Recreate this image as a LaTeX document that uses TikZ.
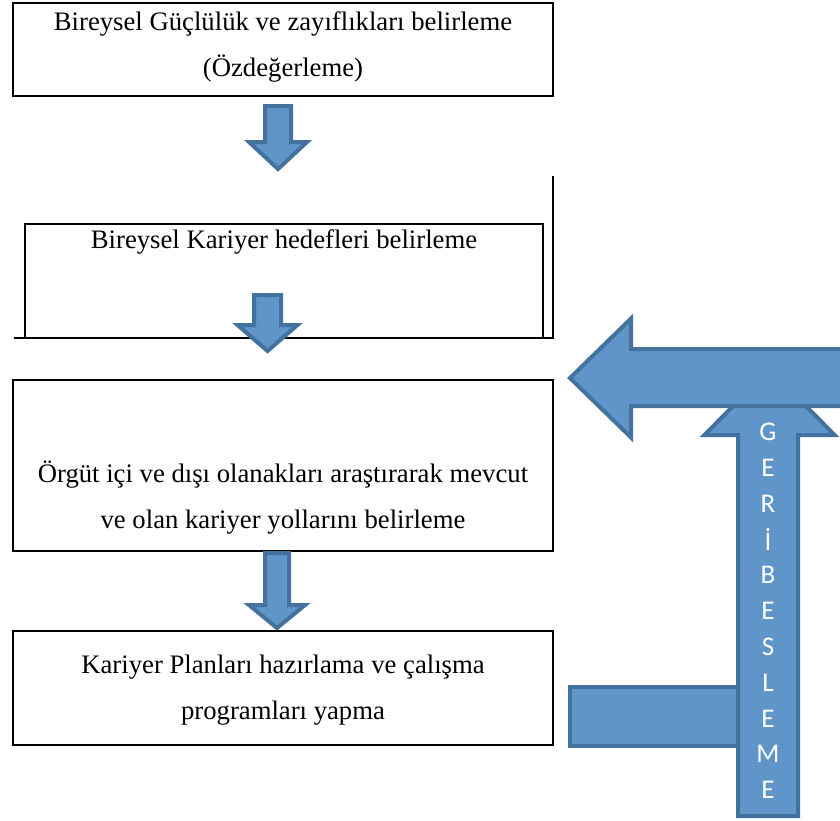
\documentclass[tikz,border=0pt]{standalone}
\usepackage{fontspec}
\setmainfont{Liberation Serif}
\newfontfamily\calibfont{Carlito}
\usepackage{xcolor}
\usepackage{tikz}
\usetikzlibrary{positioning}

\definecolor{arrfill}{RGB}{96,149,201}
\definecolor{arrline}{RGB}{68,114,158}

% block arrow pointing down: centre x, top, head base, tip, half shaft, half head
\newcommand{\blockdown}[6]{%
  \draw[blockarrow] (#1-#5,#2) -- (#1+#5,#2) -- (#1+#5,#3) -- (#1+#6,#3)
    -- (#1,#4) -- (#1-#6,#3) -- (#1-#5,#3) -- cycle;}

\begin{document}
\begin{tikzpicture}[
    x=1pt, y=-1pt,
    box/.style={rectangle, draw, line width=2.8pt, minimum width=540pt, inner sep=0pt},
    frameline/.style={line width=2.8pt},
    boxtext/.style={align=center, font=\fontsize{26.7}{46}\selectfont},
    blockarrow/.style={fill=arrfill, draw=arrline, line width=4pt, line join=miter},
    fbtext/.style={text=white, font=\calibfont\fontsize{27}{27}\selectfont, inner sep=0pt},
]
\useasboundingbox (0,0) rectangle (840,820);
\clip (0,0) rectangle (840,820);

% Boxes
\node[box, minimum height=93pt] (selfeval) at (283,49.5) {};
\node[box, minimum width=518pt, minimum height=114pt] (goals) at (284,281) {};
\node[box, minimum height=171pt] (paths) at (283,465.5) {};
\node[box, minimum height=114pt] (plans) at (283,688) {};

% outer frame of the second box
\draw[frameline] (14,338) -| (553,176);

% Texts
\node[boxtext] (selfevaltxt) at (283,46.5) {Bireysel Güçlülük ve zayıflıkları belirleme\\(Özdeğerleme)};
\node[boxtext] (goalstxt) at (284,242) {Bireysel Kariyer hedefleri belirleme};
\node[boxtext] (pathstxt) at (283,498) {Örgüt içi ve dışı olanakları araştırarak mevcut\\ve olan kariyer yollarını belirleme};
\node[boxtext] (planstxt) at (283,690.5) {Kariyer Planları hazırlama ve çalışma\\programları yapma};

% Arrows between boxes
\blockdown{278}{106}{142}{169}{13}{29}
\blockdown{267.5}{295}{325}{351}{13.5}{30}
\blockdown{277}{553}{605}{628}{12}{28}

% Feedback
\draw[blockarrow] (570,687) rectangle (738,746);
\draw[blockarrow] (738,816) -- (738,435) -- (704.5,435) -- (769.5,369)
  -- (834.5,435) -- (798,435) -- (798,816) -- cycle;
\draw[blockarrow] (850,349) -- (631,349) -- (631,318.5) -- (570,378)
  -- (631,437.5) -- (631,406) -- (850,406) -- cycle;

\foreach \ch [count=\i from 0] in {G,E,R,İ,B,E,S,L,E,M,E}
  \node[fbtext] (fb\i) at (768,432+35.8*\i) {\ch};

\end{tikzpicture}
\end{document}
